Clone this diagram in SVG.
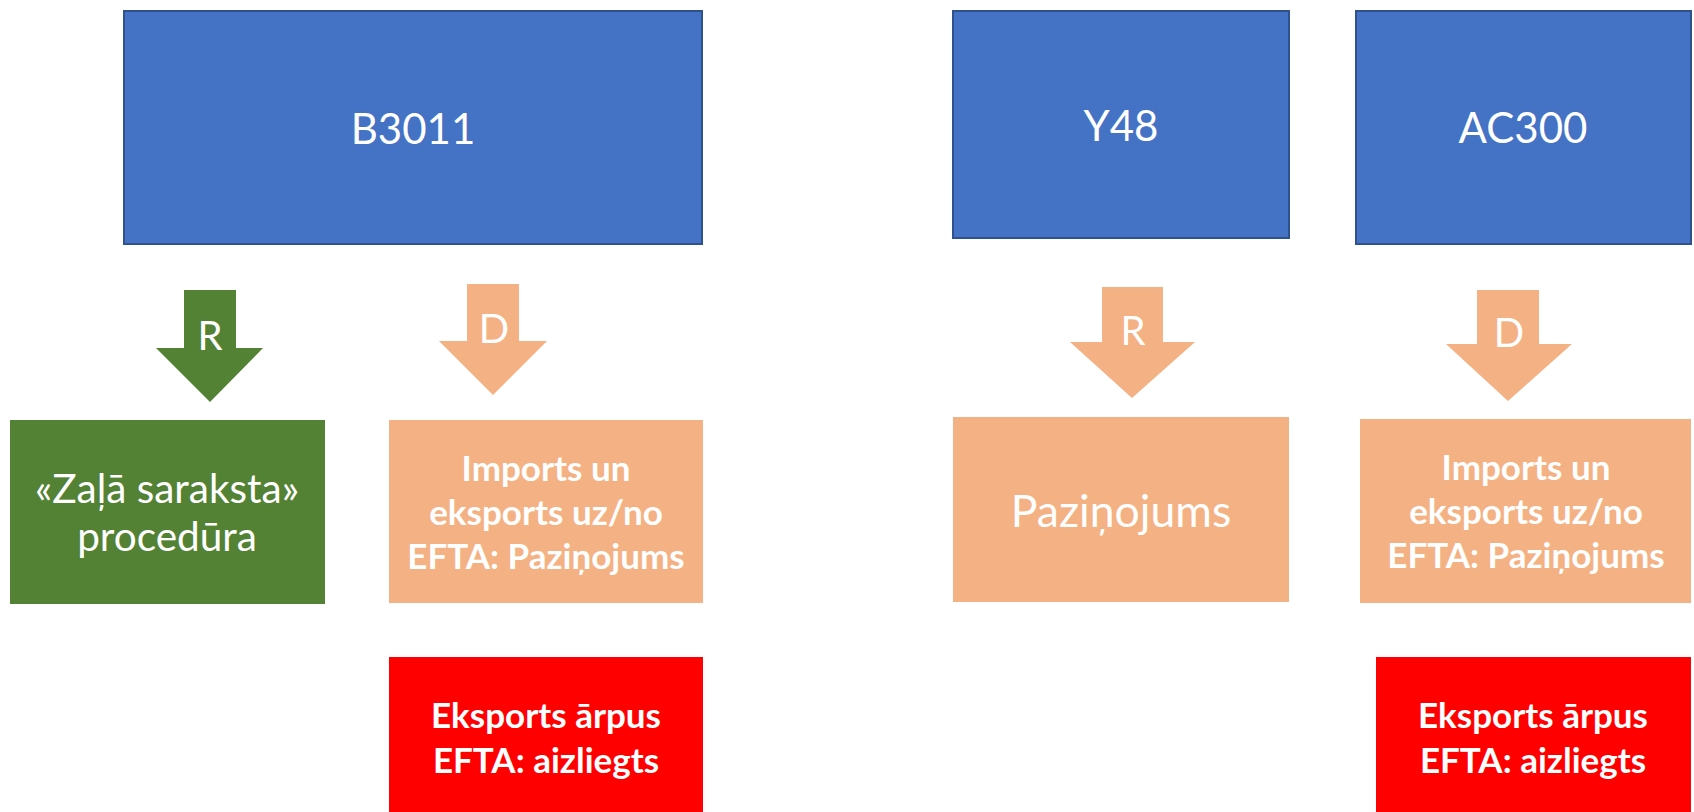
<svg xmlns="http://www.w3.org/2000/svg" width="1694" height="812" viewBox="0 0 1694 812">
<style>
.blue{fill:#4472C4;stroke:#2F528F;stroke-width:2}
.peach{fill:#F4B183}
.green{fill:#548235}
.red{fill:#FF0000}
text{fill:#FFFFFF;font-family:Lato,"Open Sans","Liberation Sans",sans-serif;text-anchor:middle}
.big{font-size:42px}
.paz{font-size:44.5px}
.mid{font-size:40.5px}
.lbl{font-size:40px}
.bold{font-size:35px;font-weight:bold}
</style>
<rect width="1694" height="812" fill="#FFFFFF"/>
<g id="b3011"><rect class="blue" x="124" y="11" width="578" height="233"/><text class="big" x="413" y="144">B3011</text></g>
<g id="y48"><rect class="blue" x="953" y="11" width="336" height="227"/><text class="big" x="1121" y="141">Y48</text></g>
<g id="ac300"><rect class="blue" x="1356" y="11" width="335" height="233"/><text class="big" x="1523" y="143">AC300</text></g>
<g id="connectors">
<g id="arrow-r1"><polygon class="green" points="184,290 236,290 236,348 263,348 210,402 156,348 184,348"/><text class="lbl" x="210" y="350">R</text></g>
<g id="arrow-d1"><polygon class="peach" points="467,284 519,284 519,341 547,341 493,395 439,341 467,341"/><text class="lbl" x="494" y="343">D</text></g>
<g id="arrow-r2"><polygon class="peach" points="1102,287 1163,287 1163,342 1195,342 1132,398 1070,342 1102,342"/><text class="lbl" x="1133" y="345">R</text></g>
<g id="arrow-d2"><polygon class="peach" points="1477,290 1539,290 1539,344 1572,344 1508,401 1446,344 1477,344"/><text class="lbl" x="1509" y="347">D</text></g>
</g>
<g id="green-list"><rect class="green" x="10" y="420" width="315" height="184"/><text class="mid" x="167" y="503">«Zaļā saraksta»</text><text class="mid" x="167" y="551">procedūra</text></g>
<g id="notice-b"><rect class="peach" x="389" y="420" width="314" height="183"/><text class="bold" x="546" y="481">Imports un</text><text class="bold" x="546" y="525">eksports uz/no</text><text class="bold" x="546" y="569">EFTA: Paziņojums</text></g>
<g id="notice-y"><rect class="peach" x="953" y="417" width="336" height="185"/><text class="paz" x="1121" y="527">Paziņojums</text></g>
<g id="notice-ac"><rect class="peach" x="1360" y="419" width="331" height="184"/><text class="bold" x="1526" y="480">Imports un</text><text class="bold" x="1526" y="524">eksports uz/no</text><text class="bold" x="1526" y="568">EFTA: Paziņojums</text></g>
<g id="ban-b"><rect class="red" x="389" y="657" width="314" height="155"/><text class="bold" x="546" y="728">Eksports ārpus</text><text class="bold" x="546" y="773">EFTA: aizliegts</text></g>
<g id="ban-ac"><rect class="red" x="1376" y="657" width="315" height="155"/><text class="bold" x="1533" y="728">Eksports ārpus</text><text class="bold" x="1533" y="773">EFTA: aizliegts</text></g>
</svg>
